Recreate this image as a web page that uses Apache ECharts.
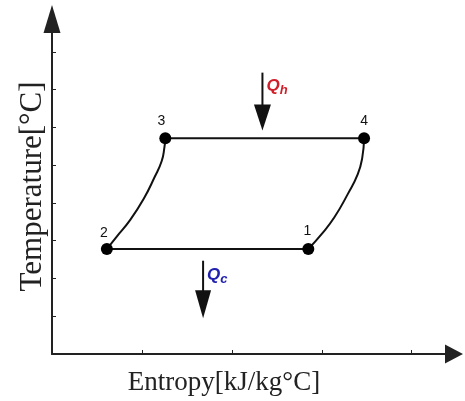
<!DOCTYPE html>
<html>
<head>
<meta charset="utf-8">
<script src="https://cdn.jsdelivr.net/npm/echarts@6/dist/echarts.min.js"></script>
<style>
  html, body { margin: 0; padding: 0; background: #fff; }
  #chart { width: 465px; height: 401px; }
</style>
</head>
<body>
<div id="chart"></div>
<script>
// state points of the cycle (entropy, temperature) in tick units
const stateNames = ["1", "2", "3", "4"];
const stateS = [2.85, 0.61, 1.26, 3.47];
const stateT = [2.78, 2.78, 5.71, 5.71];
const labelOffsets = [[-1, -18], [-3, -16], [-4, -17], [0, -17]];

// curve 2 -> 3
const compS = [0.61, 0.72, 0.87, 1.02, 1.14, 1.22, 1.25, 1.26];
const compT = [2.78, 3.11, 3.55, 4.11, 4.68, 5.11, 5.47, 5.71];
// curve 1 -> 4
const expS = [2.85, 3.0, 3.14, 3.29, 3.4, 3.45, 3.47];
const expT = [2.78, 3.18, 3.62, 4.24, 4.76, 5.2, 5.71];

// heat arrows
const qhS = [2.34, 2.34];
const qhT = [7.45, 6.26];
const qcS = [1.68, 1.68];
const qcT = [2.47, 1.32];

const axisColor = "#222";
const pts = (xs, ys) => xs.map((x, i) => [x, ys[i]]);
const seg = (a, b) => [[stateS[a], stateT[a]], [stateS[b], stateT[b]]];

function arrow(xs, ys, size) {
    return pts(xs, ys).map((p, i) => ({
        value: p,
        symbol: i === xs.length - 1 ? "triangle" : "none",
        symbolSize: size,
        symbolRotate: 180,
    }));
}

const chart = echarts.init(document.getElementById("chart"));

const lineStyle = { color: "#111", width: 2 };

chart.setOption({
    backgroundColor: "#fff",
    animation: false,
    grid: { left: 52, right: 11, top: 19, bottom: 45 },
    xAxis: {
        type: "value",
        min: 0,
        max: 4.47,
        interval: 1,
        name: "Entropy[kJ/kg°C]",
        nameLocation: "middle",
        nameGap: 15,
        nameTextStyle: {
            fontFamily: "Liberation Serif",
            fontSize: 27,
            color: "#222",
            padding: [0, 58, 0, 0],
        },
        axisLine: {
            show: true,
            symbol: ["none", "triangle"],
            symbolSize: [19, 18],
            lineStyle: { color: axisColor, width: 2 },
        },
        axisTick: { show: true, inside: true, length: 4, lineStyle: { color: axisColor, width: 1 } },
        axisLabel: { show: false },
        splitLine: { show: false },
    },
    yAxis: {
        type: "value",
        min: 0,
        max: 8.87,
        interval: 1,
        name: "Temperature[°C]",
        nameLocation: "middle",
        nameGap: 4,
        nameTextStyle: {
            fontFamily: "Liberation Serif",
            fontSize: 31,
            color: "#222",
        },
        axisLine: {
            show: true,
            symbol: ["none", "triangle"],
            symbolSize: [17, 28],
            lineStyle: { color: axisColor, width: 2 },
        },
        axisTick: { show: true, inside: true, length: 4, lineStyle: { color: axisColor, width: 1 } },
        axisLabel: { show: false },
        splitLine: { show: false },
    },
    series: [
        {
            name: "low",
            type: "line",
            data: seg(1, 0),
            symbol: "none",
            lineStyle: lineStyle,
        },
        {
            name: "high",
            type: "line",
            data: seg(2, 3),
            symbol: "none",
            lineStyle: lineStyle,
        },
        {
            name: "compress",
            type: "line",
            data: pts(compS, compT),
            smooth: 0.5,
            symbol: "none",
            lineStyle: lineStyle,
        },
        {
            name: "expand",
            type: "line",
            data: pts(expS, expT),
            smooth: 0.5,
            symbol: "none",
            lineStyle: lineStyle,
        },
        {
            name: "Qh arrow",
            type: "line",
            data: arrow(qhS, qhT, [17, 26]),
            lineStyle: lineStyle,
            itemStyle: { color: "#111", opacity: 1 },
        },
        {
            name: "Qc arrow",
            type: "line",
            data: arrow(qcS, qcT, [16, 28]),
            lineStyle: lineStyle,
            itemStyle: { color: "#111", opacity: 1 },
        },
        {
            name: "states",
            type: "scatter",
            z: 5,
            symbolSize: 12,
            itemStyle: { color: "#000", opacity: 1 },
            data: stateNames.map((n, i) => ({
                value: [stateS[i], stateT[i]],
                name: n,
                label: {
                    show: true,
                    formatter: n,
                    position: "inside",
                    offset: labelOffsets[i],
                    fontFamily: "Liberation Sans",
                    fontSize: 14,
                    color: "#111",
                },
            })),
        },
        {
            name: "heat labels",
            type: "scatter",
            symbolSize: 0,
            itemStyle: { opacity: 1 },
            data: [
                { value: [qhS[0], 7.08], name: "h", label: { color: "#d01f2a" } },
                { value: [qcS[0], 2.08], name: "c", label: { color: "#2121b0" } },
            ],
            label: {
                show: true,
                position: "right",
                distance: 4,
                formatter: (p) => "{q|Q}{s|" + p.name + "}",
                rich: {
                    q: { fontFamily: "Liberation Sans", fontSize: 17, fontWeight: "bold", fontStyle: "italic", lineHeight: 20 },
                    s: { fontFamily: "Liberation Sans", fontSize: 13, fontWeight: "bold", fontStyle: "italic", verticalAlign: "bottom", lineHeight: 20, padding: [6, 0, 0, 0] },
                },
            },
        },
    ],
});
</script>
</body>
</html>
